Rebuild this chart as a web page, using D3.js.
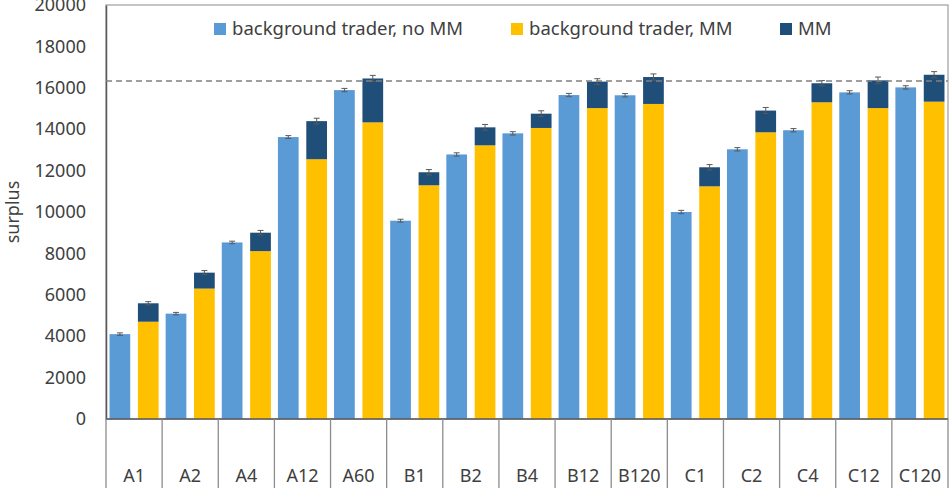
<!DOCTYPE html>
<html>
<head>
<meta charset="utf-8">
<script src="https://cdn.jsdelivr.net/npm/d3@7"></script>
<style>
  body { margin: 0; background: #fff; }
  svg { display: block; font-family: "Noto Sans", "Open Sans", sans-serif; }
</style>
</head>
<body>
<svg></svg>
<script>
const width = 952, height = 488;
const svg = d3.select("svg").attr("width", width).attr("height", height);

// data
const categories = ["A1", "A2", "A4", "A12", "A60", "B1", "B2", "B4", "B12", "B120", "C1", "C2", "C4", "C12", "C120"];
const noMM = [4100, 5090, 8530, 13620, 15890, 9580, 12780, 13800, 15650, 15640, 10000, 13030, 13950, 15780, 16020];
const noMMErr = [60, 60, 60, 70, 80, 70, 80, 80, 80, 80, 80, 80, 80, 80, 80];
const bgMM = [4700, 6300, 8110, 12550, 14330, 11290, 13220, 14060, 15020, 15220, 11240, 13850, 15300, 15020, 15330];
const mmPart = [890, 770, 890, 1840, 2120, 630, 870, 690, 1280, 1300, 920, 1050, 920, 1340, 1300];
const totalErr = [80, 100, 110, 140, 150, 130, 140, 140, 140, 150, 130, 150, 130, 160, 150];
const refLine = 16330;
const yTicks = [0, 2000, 4000, 6000, 8000, 10000, 12000, 14000, 16000, 18000, 20000];
const seriesNames = ["background trader, no MM", "background trader, MM", "MM"];
const colors = ["#5b9bd5", "#ffc000", "#1f4e79"];

const plotL = 106, plotR = 948, plotT = 5, plotB = 419;
const textColor = "#404040";

const x = d3.scaleBand().domain(categories).range([plotL, plotR]).padding(0);
const xSub = d3.scaleBand().domain(["noMM", "MM"]).range([0, x.bandwidth()])
    .paddingInner(0.27).paddingOuter(0.124);
const y = d3.scaleLinear().domain([0, 20000]).range([plotB, plotT]);

const rows = categories.map((c, i) => ({
    cat: c, noMM: noMM[i], noMMErr: noMMErr[i],
    bg: bgMM[i], mm: mmPart[i], total: bgMM[i] + mmPart[i], totalErr: totalErr[i]
}));

// plot frame
svg.append("rect")
    .attr("x", plotL).attr("y", plotT)
    .attr("width", plotR - plotL).attr("height", plotB - plotT)
    .attr("fill", "none").attr("stroke", "#a6a6a6").attr("stroke-width", 1.3);

// y axis
const yAxis = svg.append("g").attr("transform", `translate(${plotL},0)`)
    .call(d3.axisLeft(y).tickValues(yTicks).tickSize(0).tickPadding(20).tickFormat(d3.format("d")));
yAxis.select(".domain").attr("stroke", "#595959").attr("stroke-width", 1.5);
yAxis.selectAll("text").attr("font-size", 18).attr("fill", textColor)
    .attr("font-family", "Noto Sans, sans-serif");

svg.append("text")
    .attr("transform", `translate(19,${(plotT + plotB) / 2}) rotate(-90)`)
    .attr("text-anchor", "middle")
    .attr("font-size", 18).attr("fill", textColor)
    .text("surplus");

// bars
const g = svg.append("g");
const groups = g.selectAll("g.cat").data(rows).enter().append("g")
    .attr("class", "cat")
    .attr("transform", d => `translate(${x(d.cat)},0)`);

groups.append("rect")
    .attr("x", xSub("noMM")).attr("width", xSub.bandwidth())
    .attr("y", d => y(d.noMM)).attr("height", d => y(0) - y(d.noMM))
    .attr("fill", colors[0]);

groups.append("rect")
    .attr("x", xSub("MM")).attr("width", xSub.bandwidth())
    .attr("y", d => y(d.bg)).attr("height", d => y(0) - y(d.bg))
    .attr("fill", colors[1]);

groups.append("rect")
    .attr("x", xSub("MM")).attr("width", xSub.bandwidth())
    .attr("y", d => y(d.total)).attr("height", d => y(d.bg) - y(d.total))
    .attr("fill", colors[2]);

// error bars
function errorBar(sel, key, val, err) {
    const cx = xSub(key) + xSub.bandwidth() / 2;
    const eb = sel.append("g").attr("stroke", "#595959").attr("stroke-width", 1);
    eb.append("line").attr("x1", cx).attr("x2", cx)
        .attr("y1", d => y(d[val] - d[err])).attr("y2", d => y(d[val] + d[err]));
    eb.append("line").attr("x1", cx - 3).attr("x2", cx + 3)
        .attr("y1", d => y(d[val] + d[err])).attr("y2", d => y(d[val] + d[err]));
    eb.append("line").attr("x1", cx - 3).attr("x2", cx + 3)
        .attr("y1", d => y(d[val] - d[err])).attr("y2", d => y(d[val] - d[err]));
}
errorBar(groups, "noMM", "noMM", "noMMErr");
errorBar(groups, "MM", "total", "totalErr");

// reference dashed line
svg.append("line")
    .attr("x1", plotL).attr("x2", plotR)
    .attr("y1", y(refLine)).attr("y2", y(refLine))
    .attr("stroke", "#808080").attr("stroke-width", 1.5)
    .attr("stroke-dasharray", "6,4");

// baseline
svg.append("line")
    .attr("x1", plotL).attr("x2", plotR)
    .attr("y1", y(0)).attr("y2", y(0))
    .attr("stroke", "#595959").attr("stroke-width", 1.5);

// category separators and labels
const bounds = categories.map(c => x(c)).concat([x.range()[1]]);
svg.selectAll("line.sep").data(bounds).enter().append("line")
    .attr("class", "sep")
    .attr("x1", d => d).attr("x2", d => d)
    .attr("y1", plotB).attr("y2", height)
    .attr("stroke", "#8c8c8c").attr("stroke-width", 1.3);

svg.selectAll("text.cat").data(categories).enter().append("text")
    .attr("class", "cat")
    .attr("x", d => x(d) + x.bandwidth() / 2)
    .attr("y", 482)
    .attr("text-anchor", "middle")
    .attr("font-size", 18).attr("fill", textColor)
    .text(d => d);

// legend
const legendX = [214, 511, 780];
const legend = svg.selectAll("g.leg").data(seriesNames).enter().append("g")
    .attr("class", "leg")
    .attr("transform", (d, i) => `translate(${legendX[i]},23)`);
legend.append("rect").attr("width", 12).attr("height", 12)
    .attr("fill", (d, i) => colors[i]);
legend.append("text").attr("x", 18).attr("y", 12)
    .attr("font-size", 18.5).attr("fill", textColor)
    .text(d => d);
</script>
</body>
</html>
